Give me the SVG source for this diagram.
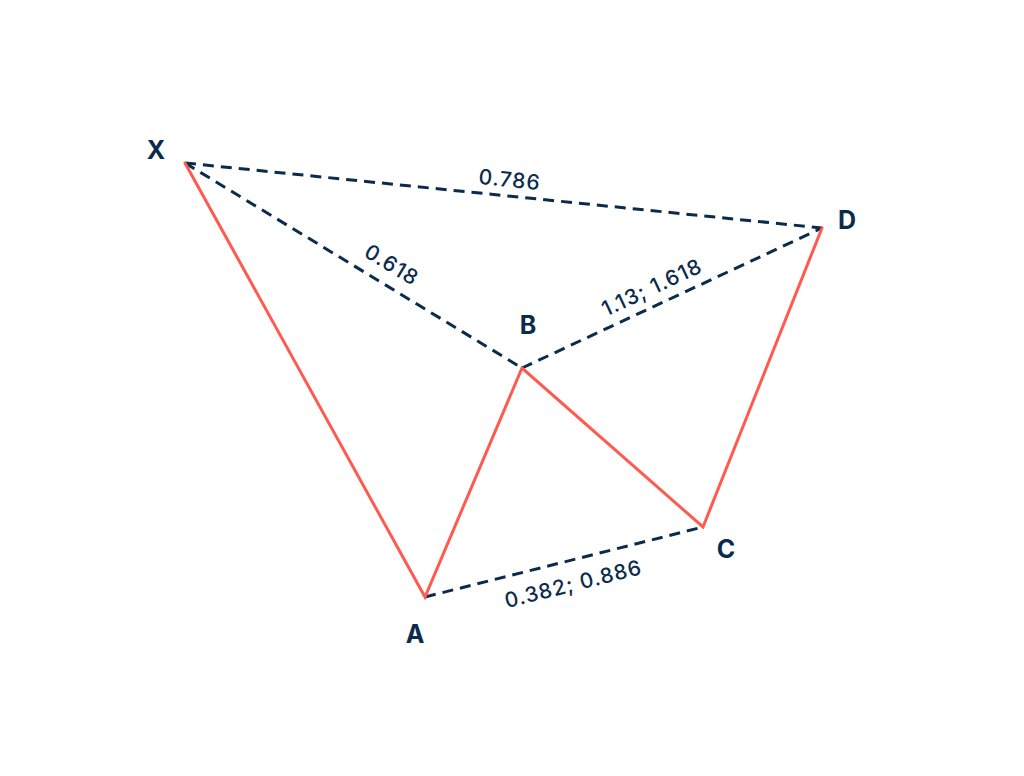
<svg xmlns="http://www.w3.org/2000/svg" width="1024" height="776" viewBox="0 0 1024 776">
<style>
.leg{stroke:#ff5a4f;stroke-width:3;fill:none;stroke-linecap:round}
.ret{stroke:#0b2b4d;stroke-width:3;fill:none;stroke-dasharray:11 7}
.lbl{font-family:Inter,"Noto Sans",sans-serif;font-weight:700;font-size:25px;fill:#0b2b4d;text-anchor:middle}
.num{font-family:Inter,"Noto Sans",sans-serif;font-size:21px;font-weight:500;letter-spacing:1px;fill:#0b2b4d;text-anchor:middle}
</style>
<rect width="1024" height="776" fill="#ffffff"/>
<g id="connectors">
<line class="ret" x1="185" y1="163" x2="822" y2="228"/>
<line class="ret" x1="185" y1="163" x2="522" y2="368"/>
<line class="ret" x1="522" y1="368" x2="822" y2="228"/>
<line class="ret" x1="425" y1="597" x2="703" y2="527"/>
<polyline class="leg" points="185,163 425,597 522,368 703,527 822,228"/>
<text class="num" transform="translate(509,187) rotate(5.8)">0.786</text>
<text class="num" transform="translate(388,271) rotate(31.3)">0.618</text>
<text class="num" transform="translate(655,294) rotate(-25)">1.13; 1.618</text>
<text class="num" transform="translate(575,591) rotate(-14.1)">0.382; 0.886</text>
</g>
<g id="node-X"><text class="lbl" x="156" y="159">X</text></g>
<g id="node-A"><text class="lbl" x="415" y="643">A</text></g>
<g id="node-B"><text class="lbl" x="528" y="334">B</text></g>
<g id="node-C"><text class="lbl" x="726" y="558">C</text></g>
<g id="node-D"><text class="lbl" x="847" y="229">D</text></g>
</svg>
